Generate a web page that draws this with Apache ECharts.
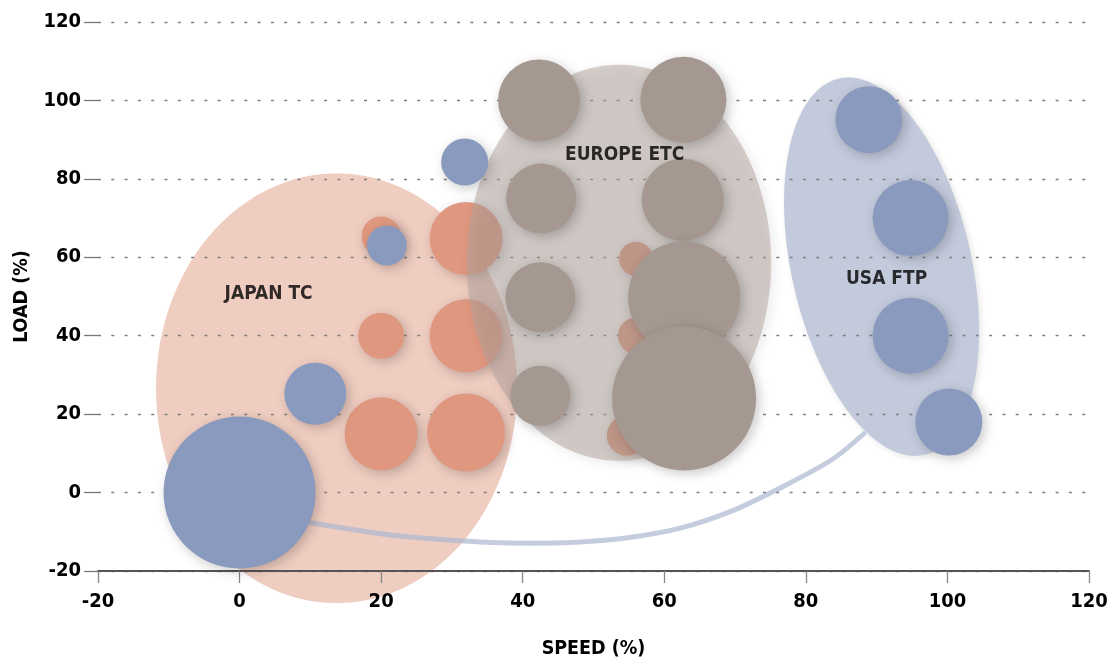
<!DOCTYPE html>
<html>
<head>
<meta charset="utf-8">
<script src="https://cdn.jsdelivr.net/npm/echarts@6/dist/echarts.min.js"></script>
<style>
  html, body { margin: 0; padding: 0; background: #ffffff; }
  #chart { width: 1110px; height: 662px; }
</style>
</head>
<body>
<div id="chart"></div>
<script>
// Axis range shared by speed and load
const axisMin = -20;
const axisMax = 120;
const axisStep = 20;

// Test-cycle operating points: speed %, load %, weighting
const japanSpeed  = [20, 32, 20, 32, 20, 32, 56, 56, 54.7];
const japanLoad   = [65.4, 64.8, 40, 40, 15, 15.3, 59.6, 40, 14.5];
const japanWeight = [19.5, 36.5, 23, 36.5, 36.5, 39, 17, 18, 20];

const europeSpeed  = [42.3, 62.7, 42.6, 62.6, 42.5, 62.8, 62.8, 42.5];
const europeLoad   = [100, 100.2, 75, 74.7, 49.8, 49.8, 24, 24.7];
const europeWeight = [41, 43, 35, 41, 35, 56, 72, 30];

const usaSpeed  = [0, 10.7, 20.8, 31.8, 88.9, 94.8, 94.8, 100.2];
const usaLoad   = [0, 25.2, 63, 84.3, 95.1, 70, 40, 18];
const usaWeight = [76, 31, 20, 23.5, 33.5, 38, 38, 33.5];

// Regions covered by each test cycle (centre and half-extents in axis units)
const regionNames       = ['JAPAN TC', 'EUROPE ETC', 'USA FTP'];
const regionSpeed       = [13.7, 53.6, 90.7];
const regionLoad        = [26.6, 58.6, 57.6];
const regionSpeedRadius = [25.5, 21.5, 12.7];
const regionLoadRadius  = [54.8, 50.5, 49.2];
const regionLabelSpeed  = [4.1, 54.4, 91.4];
const regionLabelLoad   = [50.6, 86.0, 54.5];

// Link from the idle point to the USA FTP region
const linkSpeed = [10.0, 19.9, 27.0, 34.0, 41.1, 48.2, 55.3, 62.4, 69.4, 76.5, 83.6, 88.2];
const linkLoad  = [-7.7, -10.5, -11.8, -12.6, -12.9, -12.6, -11.4, -9.0, -4.8, 1.3, 8.3, 15.0];

const FONT = "'Liberation Sans Narrow', 'DejaVu Sans Condensed', 'Arial Narrow', sans-serif";

const regionStyles = [
  { fill: '#f0cdc1', tilt: 0, z: 1 },
  { fill: 'rgba(175,162,155,0.5)', tilt: 0, z: 5, shadowBlur: 12, shadowColor: 'rgba(0,0,0,0.16)', shadowOffsetX: 3, shadowOffsetY: 3 },
  { fill: '#c3cadc', tilt: 12.8, z: 1, shadowBlur: 6, shadowColor: 'rgba(0,0,0,0.1)', shadowOffsetX: 2, shadowOffsetY: 2 }
];

function regionSeries(i) {
  const st = regionStyles[i];
  return {
    type: 'custom',
    name: regionNames[i],
    coordinateSystem: 'cartesian2d',
    z: st.z,
    silent: true,
    clip: false,
    data: [[regionSpeed[i], regionLoad[i], regionSpeedRadius[i], regionLoadRadius[i]]],
    renderItem: function (params, api) {
      const c = api.coord([api.value(0), api.value(1)]);
      const s = api.size([api.value(2), api.value(3)]);
      const a = st.tilt * Math.PI / 180;
      const ca = Math.cos(a), sa = Math.sin(a);
      const pts = [];
      const n = 240;
      for (let k = 0; k < n; k++) {
        const t = k / n * Math.PI * 2;
        const lx = s[0] * Math.cos(t), ly = s[1] * Math.sin(t);
        pts.push([c[0] + lx * ca + ly * sa, c[1] - lx * sa + ly * ca]);
      }
      return {
        type: 'polygon',
        shape: { points: pts },
        style: {
          fill: st.fill,
          shadowBlur: st.shadowBlur || 0,
          shadowColor: st.shadowColor || 'transparent',
          shadowOffsetX: st.shadowOffsetX || 0,
          shadowOffsetY: st.shadowOffsetY || 0
        }
      };
    }
  };
}

function bubbleSeries(name, xs, ys, ws, color, z) {
  return {
    type: 'scatter',
    name: name,
    z: z,
    silent: true,
    clip: false,
    data: xs.map((x, i) => [x, ys[i], ws[i]]),
    symbolSize: v => v[2] * 2,
    itemStyle: {
      color: color,
      opacity: 1,
      shadowBlur: 12,
      shadowColor: 'rgba(0,0,0,0.22)',
      shadowOffsetX: 3,
      shadowOffsetY: 3
    }
  };
}

const chart = echarts.init(document.getElementById('chart'), null, { renderer: 'canvas' });

chart.setOption({
  animation: false,
  backgroundColor: '#ffffff',
  grid: { left: 98, right: 21, top: 22, bottom: 91, containLabel: false, outerBoundsMode: 'none' },
  xAxis: {
    type: 'value',
    min: axisMin, max: axisMax, interval: axisStep,
    z: 3,
    name: 'SPEED (%)',
    nameLocation: 'middle',
    nameGap: 68,
    nameTextStyle: { fontFamily: FONT, fontWeight: 'bold', fontSize: 19.5, color: '#000' },
    axisLine: { show: true, onZero: false, lineStyle: { color: '#555', width: 2 } },
    axisTick: { show: true, length: 12, lineStyle: { color: '#888', width: 1.3 } },
    axisLabel: { fontFamily: FONT, fontWeight: 'bold', fontSize: 20, color: '#000', margin: 21 },
    splitLine: { show: false }
  },
  yAxis: {
    type: 'value',
    min: axisMin, max: axisMax, interval: axisStep,
    z: 3,
    name: 'LOAD (%)',
    nameLocation: 'middle',
    nameGap: 66,
    nameTextStyle: { fontFamily: FONT, fontWeight: 'bold', fontSize: 19.5, color: '#000' },
    axisLine: { show: false, onZero: false },
    axisTick: { show: true, length: 14, lineStyle: { color: '#777', width: 1.3 } },
    axisLabel: { fontFamily: FONT, fontWeight: 'bold', fontSize: 20, color: '#000', margin: 17 },
    splitLine: { show: true, lineStyle: { color: '#808080', width: 1.3, type: [3, 10.3] } }
  },
  series: [
    regionSeries(0),
    regionSeries(2),
    {
      type: 'line',
      name: 'link',
      z: 2,
      silent: true,
      clip: false,
      smooth: 0.3,
      symbol: 'none',
      data: linkSpeed.map((x, i) => [x, linkLoad[i]]),
      lineStyle: { color: 'rgb(171,182,208)', width: 5, opacity: 0.7, cap: 'round' }
    },
    bubbleSeries('JAPAN TC', japanSpeed, japanLoad, japanWeight, '#e0977f', 4),
    regionSeries(1),
    bubbleSeries('EUROPE ETC', europeSpeed, europeLoad, europeWeight, '#a59891', 6),
    bubbleSeries('USA FTP', usaSpeed, usaLoad, usaWeight, '#8a9abe', 7),
    {
      type: 'scatter',
      name: 'labels',
      z: 8,
      silent: true,
      symbolSize: 0,
      data: regionNames.map((n, i) => ({ name: n, value: [regionLabelSpeed[i], regionLabelLoad[i]] })),
      label: {
        show: true,
        position: 'inside',
        formatter: p => p.name,
        fontFamily: FONT,
        fontWeight: 'bold',
        fontSize: 19,
        color: '#000'
      }
    }
  ]
});
</script>
</body>
</html>
